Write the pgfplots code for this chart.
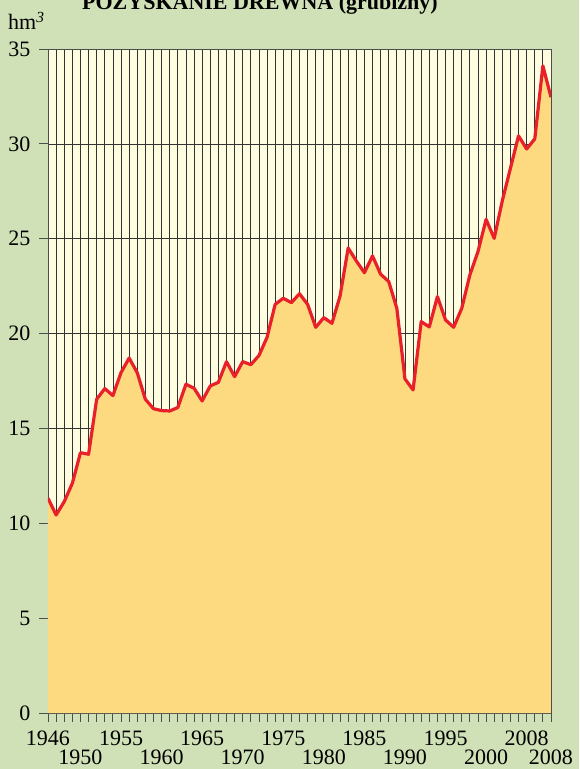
\documentclass[border=0pt]{standalone}
\usepackage{fontspec}
\setmainfont{Liberation Serif}
\usepackage{pgfplots}
\pgfplotsset{compat=1.18}
\definecolor{bggreen}{RGB}{208,224,183}
\definecolor{plotbg}{RGB}{255,253,224}
\definecolor{areafill}{RGB}{253,217,128}
\definecolor{redline}{RGB}{232,32,42}
\newcommand{\low}[1]{\raisebox{-19pt}{#1}}
\begin{document}
\fontsize{22}{26}\selectfont
\begin{tikzpicture}
\path[use as bounding box, fill=bggreen] (-48pt,-56pt) rectangle (531pt,713pt);
\node[anchor=base, font=\bfseries\fontsize{22}{26}\selectfont] at (212pt,703pt) {POZYSKANIE DREWNA (grubizny)};
\node[anchor=base west, inner sep=0pt] at (-40pt,683pt) {hm\textsuperscript{\itshape 3}};
\begin{axis}[
    scale only axis,
    width=503pt, height=664pt,
    at={(0pt,0pt)}, anchor=south west,
    xmin=1946, xmax=2008, ymin=0, ymax=35,
    axis background/.style={fill=plotbg},
    axis line style={draw=black!70, line width=0.9pt},
    xtick={1946,1947,...,2008},
    xticklabels={},
    ytick={0,5,...,35},
    tick pos=left, tick align=outside,
    major tick length=9pt,
    tick style={black!70, line width=0.8pt},
    grid=major,
    major grid style={black!80, line width=0.7pt},
    /pgf/number format/assume math mode=true,
    yticklabel style={font=\fontsize{22}{26}\selectfont, xshift=-1pt},
    extra x ticks={1946,1950,1955,1960,1965,1970,1975,1980,1985,1990,1995,2000,2005,2008},
    extra x tick labels={1946,\low{1950},1955,\low{1960},1965,\low{1970},1975,\low{1980},1985,\low{1990},1995,\low{2000},2008,\low{2008}},
    extra x tick style={major tick length=0pt, grid=none,
        xticklabel style={anchor=base, yshift=-32pt, font=\fontsize{22}{26}\selectfont}},
]
\addplot[draw=none, fill=areafill] table {
x y
1946 11.32
1947 10.44
1948 11.14
1949 12.11
1950 13.72
1951 13.64
1952 16.54
1953 17.10
1954 16.73
1955 17.94
1956 18.71
1957 17.94
1958 16.54
1959 16.04
1960 15.94
1961 15.92
1962 16.10
1963 17.33
1964 17.12
1965 16.45
1966 17.24
1967 17.43
1968 18.52
1969 17.73
1970 18.52
1971 18.36
1972 18.84
1973 19.80
1974 21.54
1975 21.86
1976 21.63
1977 22.10
1978 21.54
1979 20.33
1980 20.84
1981 20.54
1982 21.98
1983 24.51
1984 23.83
1985 23.21
1986 24.09
1987 23.13
1988 22.74
1989 21.33
1990 17.61
1991 17.03
1992 20.63
1993 20.35
1994 21.95
1995 20.72
1996 20.33
1997 21.33
1998 23.09
1999 24.32
2000 26.02
2001 25.02
2002 27.00
2003 28.71
2004 30.42
2005 29.73
2006 30.26
2007 34.11
2008 32.46
} \closedcycle;
\addplot[redline, line width=3.2pt, line join=round] table {
x y
1946 11.32
1947 10.44
1948 11.14
1949 12.11
1950 13.72
1951 13.64
1952 16.54
1953 17.10
1954 16.73
1955 17.94
1956 18.71
1957 17.94
1958 16.54
1959 16.04
1960 15.94
1961 15.92
1962 16.10
1963 17.33
1964 17.12
1965 16.45
1966 17.24
1967 17.43
1968 18.52
1969 17.73
1970 18.52
1971 18.36
1972 18.84
1973 19.80
1974 21.54
1975 21.86
1976 21.63
1977 22.10
1978 21.54
1979 20.33
1980 20.84
1981 20.54
1982 21.98
1983 24.51
1984 23.83
1985 23.21
1986 24.09
1987 23.13
1988 22.74
1989 21.33
1990 17.61
1991 17.03
1992 20.63
1993 20.35
1994 21.95
1995 20.72
1996 20.33
1997 21.33
1998 23.09
1999 24.32
2000 26.02
2001 25.02
2002 27.00
2003 28.71
2004 30.42
2005 29.73
2006 30.26
2007 34.11
2008 32.46
};
\end{axis}
\end{tikzpicture}
\end{document}
